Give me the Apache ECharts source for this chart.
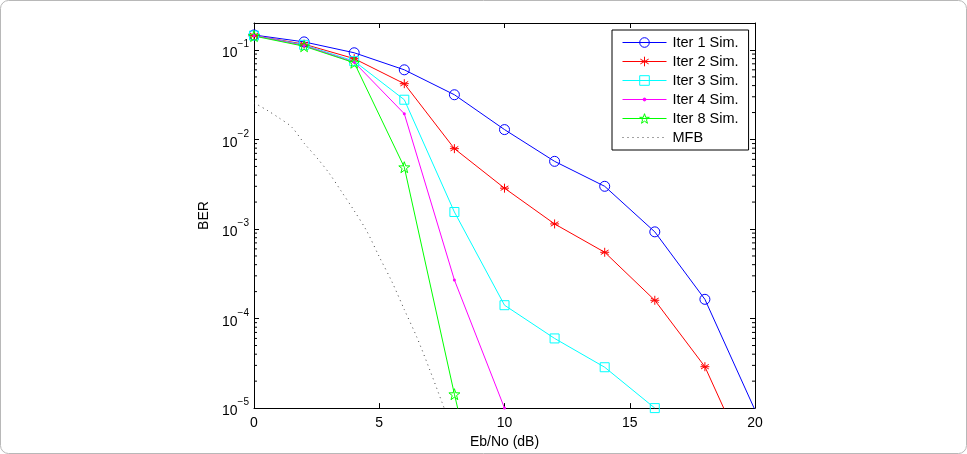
<!DOCTYPE html>
<html>
<head>
<meta charset="utf-8">
<script src="https://cdn.jsdelivr.net/npm/echarts@6/dist/echarts.min.js"></script>
<style>
  html, body { margin: 0; padding: 0; background: #fff; }
  #chart { width: 967px; height: 454px; }
</style>
</head>
<body>
<div id="chart"></div>
<script>
// Eb/No grid of the simulated curves
const ebno = [0, 2, 4, 6, 8, 10, 12, 14, 16, 18, 20]
const iter1 = [0.147, 0.123, 0.093, 0.060, 0.0316, 0.0129, 0.0057, 0.0030, 0.00093, 0.000164, 0.0000095]
const iter2 = [0.145, 0.116, 0.080, 0.042, 0.0079, 0.00286, 0.00114, 0.00055, 0.00016, 0.000029, 0.0000017]
const iter3 = [0.145, 0.114, 0.075, 0.0278, 0.00155, 0.000141, 0.00006, 0.0000286, 0.00001]
const iter4 = [0.145, 0.112, 0.073, 0.0194, 0.00027, 0.00001]
const iter8 = [0.143, 0.110, 0.072, 0.0049, 0.0000143, 0.000000058]
// matched filter bound
const mfbX = [0, 0.5, 1, 1.5, 2, 2.5, 3, 3.5, 4, 4.5, 5, 5.5, 6, 6.5, 7, 7.5, 8]
const mfbY = [0.0257, 0.0214, 0.0174, 0.0138, 0.0091, 0.0063, 0.0042, 0.0026, 0.0016,
  0.00095, 0.00049, 0.00026, 0.000126, 0.000062, 0.0000275, 0.0000117, 0.000005]

const names = ['Iter 1 Sim.', 'Iter 2 Sim.', 'Iter 3 Sim.', 'Iter 4 Sim.', 'Iter 8 Sim.', 'MFB']
const minorMantissas = [2, 3, 4, 5, 6, 7, 8, 9]
const decades = [-5, -4, -3, -2, -1]
const yMin = 1e-5
const yMax = 0.2

// matlab-ish markers
const asterisk = 'path://M0,-5L0,5M-4.33,-2.5L4.33,2.5M-4.33,2.5L4.33,-2.5M-5,0L5,0'
const pentagram = 'path://M0,-5L1.18,-1.62L4.76,-1.55L1.9,0.62L2.94,4.05L0,2L-2.94,4.05L-1.9,0.62L-4.76,-1.55L-1.18,-1.62Z'
// small dot inside a 10x10 box so the legend keeps it small too
const dot = 'path://M-5,-5L-5,-5M5,5L5,5M1.5,0A1.5,1.5 0 1,1 -1.5,0A1.5,1.5 0 1,1 1.5,0Z'

const pairs = (xs, ys) => ys.map((y, i) => [xs[i], y])

const font = 'Liberation Sans, Arial, Helvetica, sans-serif'

function simSeries(name, data, color, symbol, size, filled) {
  return {
    name,
    type: 'line',
    data: pairs(ebno, data),
    symbol,
    symbolSize: size,
    showAllSymbol: true,
    clip: true,
    lineStyle: { color, width: 1 },
    itemStyle: filled
      ? { color, borderColor: color, borderWidth: 0 }
      : { color: 'rgba(0,0,0,0)', borderColor: color, borderWidth: 1 },
    emphasis: { disabled: true },
    z: 3
  }
}

// minor log ticks, drawn inside on both sides of the box
const minorTicks = []
decades.forEach(d => {
  minorMantissas.forEach(m => {
    const v = m * Math.pow(10, d)
    if (v < yMax) minorTicks.push([0, v])
  })
})

const boxLine = { show: true, onZero: false, lineStyle: { color: '#000', width: 1 } }
const tick = { show: true, inside: true, length: 5, lineStyle: { color: '#000' } }

const chart = echarts.init(document.getElementById('chart'), null, { renderer: 'canvas' })

chart.setOption({
  animation: false,
  backgroundColor: '#fff',
  textStyle: { fontFamily: font },
  graphic: [{
    type: 'rect',
    shape: { x: 0.5, y: 0.5, width: 966, height: 453, r: 8 },
    style: { fill: 'none', stroke: '#b8b8b8', lineWidth: 1 },
    silent: true,
    z: -10
  }],
  grid: { left: 254, right: 212, top: 23, bottom: 44, containLabel: false },
  legend: {
    data: names,
    orient: 'vertical',
    left: 612,
    top: 30,
    itemWidth: 44,
    itemHeight: 12,
    itemGap: 4,
    padding: [5, 10, 5, 10],
    borderColor: '#000',
    borderWidth: 1,
    backgroundColor: '#fff',
    lineStyle: { width: 1 },
    itemStyle: { borderWidth: 1 },
    textStyle: { fontFamily: font, fontSize: 14.5, lineHeight: 15, color: '#000', padding: [0, 0, 0, 1] },
    selectedMode: false
  },
  xAxis: [{
    type: 'value',
    min: 0,
    max: 20,
    interval: 5,
    name: 'Eb/No (dB)',
    nameLocation: 'middle',
    nameGap: 24,
    nameTextStyle: { fontFamily: font, fontSize: 14, color: '#000' },
    axisLine: boxLine,
    axisTick: tick,
    axisLabel: { fontFamily: font, fontSize: 14, color: '#000', margin: 8 },
    splitLine: { show: false }
  }, {
    type: 'value',
    position: 'top',
    min: 0,
    max: 20,
    interval: 5,
    axisLine: boxLine,
    axisTick: tick,
    axisLabel: { show: false },
    splitLine: { show: false }
  }],
  yAxis: [{
    type: 'log',
    logBase: 10,
    min: yMin,
    max: yMax,
    interval: 1,
    name: 'BER',
    nameLocation: 'middle',
    nameGap: 42,
    nameTextStyle: { fontFamily: font, fontSize: 14, color: '#000' },
    axisLine: boxLine,
    axisTick: tick,
    axisLabel: {
      margin: 5,
      showMaxLabel: false,
      formatter: v => {
        const l = Math.log10(v)
        const e = Math.round(l)
        if (Math.abs(l - e) > 1e-6) return ''
        return '{b|10}{s|−' + (-e) + '}'
      },
      rich: {
        b: { fontFamily: font, fontSize: 14, color: '#000', padding: [7, 0, 0, 0] },
        s: { fontFamily: font, fontSize: 10, color: '#000', verticalAlign: 'top' }
      }
    },
    splitLine: { show: false }
  }, {
    type: 'log',
    logBase: 10,
    min: yMin,
    max: yMax,
    interval: 1,
    position: 'right',
    axisLine: boxLine,
    axisTick: tick,
    axisLabel: { show: false },
    splitLine: { show: false }
  }],
  series: [
    simSeries(names[0], iter1, '#0000ff', 'circle', 10, false),
    simSeries(names[1], iter2, '#ff0000', asterisk, 9, false),
    simSeries(names[2], iter3, '#00ffff', 'rect', 9, false),
    simSeries(names[3], iter4, '#ff00ff', dot, 10, true),
    simSeries(names[4], iter8, '#00ff00', pentagram, 11, false),
    {
      name: names[5],
      type: 'line',
      data: pairs(mfbX, mfbY),
      symbol: 'none',
      smooth: 0.3,
      clip: true,
      lineStyle: { color: '#444', width: 1, type: [1, 4] },
      itemStyle: { color: 'rgba(0,0,0,0)', borderWidth: 0 },
      emphasis: { disabled: true },
      z: 2
    },
    {
      type: 'custom',
      silent: true,
      clip: false,
      data: minorTicks,
      renderItem: (params, api) => {
        const v = api.value(1)
        const l = api.coord([0, v])
        const r = api.coord([20, v])
        const style = { stroke: '#000', lineWidth: 1 }
        return {
          type: 'group',
          children: [
            { type: 'line', shape: { x1: l[0], y1: l[1], x2: l[0] + 3, y2: l[1] }, style },
            { type: 'line', shape: { x1: r[0], y1: r[1], x2: r[0] - 3, y2: r[1] }, style }
          ]
        }
      },
      z: 4
    }
  ]
})
</script>
</body>
</html>
